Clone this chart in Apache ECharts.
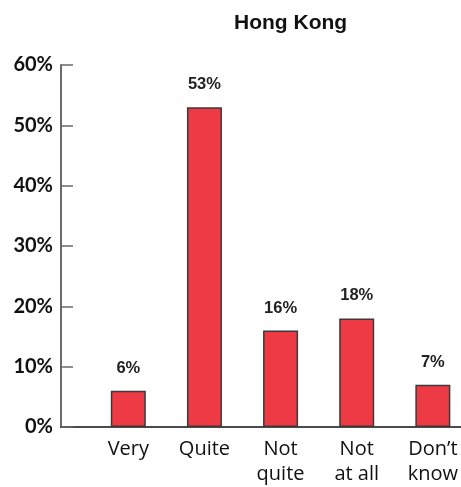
<!DOCTYPE html>
<html>
<head>
<meta charset="utf-8">
<title>Hong Kong</title>
<script src="https://cdn.jsdelivr.net/npm/echarts@6/dist/echarts.min.js"></script>
<style>
  html, body { margin: 0; padding: 0; background: #fff; }
  #chart { width: 461px; height: 487px; }
</style>
</head>
<body>
<div id="chart"></div>
<script>
const categories = ['Very', 'Quite', 'Not\nquite', 'Not\nat all', 'Don\u2019t\nknow']
const values = [6, 53, 16, 18, 7]
const yTicks = [0, 10, 20, 30, 40, 50, 60]

const ec = echarts.init(document.getElementById('chart'))
ec.setOption({
  animation: false,
  title: {
    text: 'Hong Kong',
    left: 229,
    top: 8,
    textStyle: {fontFamily: 'Liberation Sans', fontSize: 21, fontWeight: 'bold', color: '#111'}
  },
  grid: [
    // bars sit on the ticks of a non-gapped category axis
    {left: 128.3, right: 25.8, top: 65, bottom: 60},
    // only here to draw the baseline from the y axis to the right edge
    {left: 61, right: 0, top: 65, bottom: 60}
  ],
  xAxis: [
    {
      type: 'category',
      gridIndex: 0,
      boundaryGap: false,
      data: categories,
      axisLine: {show: false},
      axisTick: {show: false},
      axisLabel: {
        margin: 10,
        interval: 0,
        fontFamily: 'Open Sans',
        fontSize: 20,
        lineHeight: 25,
        color: '#111'
      }
    },
    {
      type: 'value',
      gridIndex: 1,
      axisLine: {show: true, onZero: false, lineStyle: {color: '#111', width: 1.5}},
      axisTick: {show: false},
      axisLabel: {show: false},
      splitLine: {show: false}
    }
  ],
  yAxis: [
    {
      type: 'value',
      gridIndex: 0,
      min: yTicks[0],
      max: yTicks[yTicks.length - 1],
      interval: 10,
      offset: 67.3,
      axisLine: {show: true, lineStyle: {color: '#6b6b6b', width: 2}},
      axisTick: {show: true, inside: true, length: 12, lineStyle: {color: '#6b6b6b', width: 1.5}},
      axisLabel: {
        margin: 8,
        formatter: '{value}%',
        fontFamily: 'Lato',
        fontSize: 20,
        fontWeight: 'bold',
        color: '#111'
      },
      splitLine: {show: false}
    },
    {
      type: 'value',
      gridIndex: 1,
      show: false
    }
  ],
  series: [
    {
      type: 'bar',
      xAxisIndex: 0,
      yAxisIndex: 0,
      data: values,
      barWidth: 35,
      itemStyle: {color: '#ee3a45', borderColor: '#3a3a3a', borderWidth: 1.5},
      label: {
        show: true,
        position: 'top',
        distance: 14,
        formatter: '{c}%',
        fontFamily: 'Liberation Sans',
        fontSize: 16.5,
        fontWeight: 'bold',
        color: '#222'
      }
    }
  ]
})
</script>
</body>
</html>
